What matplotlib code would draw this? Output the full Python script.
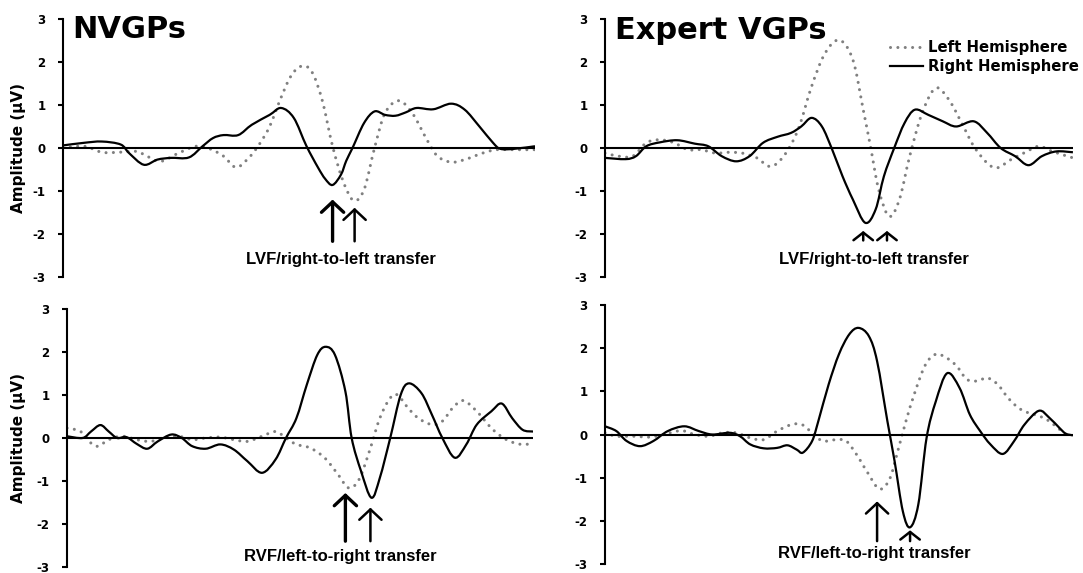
import matplotlib
matplotlib.use("Agg")
import matplotlib.pyplot as plt
from matplotlib import font_manager
from matplotlib.lines import Line2D
from matplotlib.path import Path
from matplotlib.patches import PathPatch

# ERP difference waves (x = time in arbitrary sample units)
# NVGPs, LVF / right-to-left transfer
tl_rh_x = [0, 20, 37, 55, 63, 77, 90, 103, 120, 133, 143, 153, 167, 180, 197, 208, 220, 232, 243, 250, 257,
           265, 270, 276, 287, 297, 307, 317, 327, 337, 353, 370, 383, 397, 410, 417, 430, 450]
tl_rh_y = [0.06, 0.12, 0.15, 0.08, -0.12, -0.39, -0.27, -0.23, -0.22, 0.04, 0.23, 0.30, 0.30, 0.54, 0.77, 0.93,
           0.70, 0.05, -0.45, -0.72, -0.86, -0.62, -0.30, 0.0, 0.58, 0.85, 0.77, 0.75, 0.83, 0.93, 0.90, 1.03,
           0.89, 0.50, 0.12, -0.02, -0.02, 0.04]
tl_lh_x = [0, 20, 37, 53, 70, 80, 93, 110, 127, 140, 153, 165, 177, 187, 197, 207, 217, 227, 237, 247, 257,
           267, 277, 287, 297, 307, 320, 333, 347, 357, 370, 383, 400, 413, 430, 450]
tl_lh_y = [0.0, 0.04, -0.10, -0.10, -0.08, -0.19, -0.31, -0.12, 0.04, -0.02, -0.19, -0.45, -0.23, 0.08, 0.50,
           1.12, 1.66, 1.90, 1.78, 1.12, 0.04, -0.77, -1.22, -0.97, 0.0, 0.81, 1.10, 0.81, 0.19, -0.19, -0.33,
           -0.27, -0.12, -0.04, -0.04, -0.04]

# Expert VGPs, LVF / right-to-left transfer
tr_rh_x = [0, 20, 30, 40, 53, 70, 87, 100, 113, 127, 140, 153, 167, 180, 190, 200, 210, 220, 230, 240, 252,
           262, 270, 280, 290, 300, 313, 327, 340, 357, 370, 383, 397, 410, 423, 437, 453]
tr_rh_y = [-0.23, -0.26, -0.19, 0.04, 0.13, 0.18, 0.10, 0.04, -0.19, -0.31, -0.19, 0.12, 0.26, 0.35, 0.50,
           0.70, 0.50, -0.04, -0.66, -1.20, -1.74, -1.43, -0.66, 0.0, 0.58, 0.89, 0.77, 0.62, 0.50, 0.62, 0.35,
           0.0, -0.19, -0.40, -0.19, -0.08, -0.10]
tr_lh_x = [0, 13, 27, 40, 53, 67, 80, 93, 107, 120, 133, 147, 160, 173, 187, 200, 213, 227, 240, 250, 257,
           265, 275, 285, 295, 307, 320, 333, 347, 357, 370, 380, 393, 407, 420, 433, 453]
tr_lh_y = [-0.12, -0.19, -0.19, 0.12, 0.19, 0.12, -0.04, -0.04, -0.12, -0.10, -0.12, -0.23, -0.43, -0.19,
           0.43, 1.43, 2.20, 2.51, 2.05, 0.89, 0.04, -0.97, -1.59, -1.20, -0.19, 0.81, 1.39, 1.12, 0.50, 0.04,
           -0.35, -0.46, -0.27, -0.10, 0.04, -0.08, -0.23]

# NVGPs, RVF / left-to-right transfer
bl_rh_x = [0, 15, 23, 32, 40, 48, 57, 67, 77, 87, 100, 110, 120, 133, 147, 160, 173, 187, 200, 210, 220, 230,
           240, 248, 257, 267, 273, 282, 292, 300, 310, 320, 328, 340, 350, 360, 372, 383, 393, 407, 417, 427,
           437, 447]
bl_rh_y = [0.04, 0.0, 0.15, 0.30, 0.15, 0.0, 0.02, -0.14, -0.25, -0.08, 0.08, 0.0, -0.19, -0.25, -0.15, -0.27,
           -0.54, -0.81, -0.50, 0.0, 0.46, 1.24, 1.93, 2.12, 1.93, 1.08, 0.0, -0.77, -1.39, -0.93, 0.0, 1.0,
           1.27, 1.04, 0.54, 0.0, -0.46, -0.15, 0.31, 0.62, 0.80, 0.46, 0.19, 0.15]
bl_lh_x = [0, 13, 23, 30, 40, 53, 67, 80, 93, 107, 120, 133, 147, 160, 173, 187, 200, 210, 220, 233, 247, 260,
           270, 280, 290, 300, 310, 317, 327, 337, 350, 360, 370, 380, 393, 407, 420, 433, 447]
bl_lh_y = [0.23, 0.15, -0.12, -0.19, -0.04, 0.04, -0.04, -0.08, 0.0, 0.04, -0.04, 0.0, 0.02, -0.04, -0.08,
           0.04, 0.15, 0.0, -0.15, -0.23, -0.46, -0.85, -1.16, -0.97, -0.31, 0.46, 0.93, 1.0, 0.70, 0.46, 0.31,
           0.39, 0.70, 0.87, 0.62, 0.23, -0.02, -0.14, -0.14]

# Expert VGPs, RVF / left-to-right transfer
br_rh_x = [0, 11, 21, 34, 47, 61, 77, 91, 104, 121, 131, 141, 154, 167, 177, 186, 192, 201, 207, 217, 227, 237,
           246, 256, 264, 274, 281, 289, 296, 304, 312, 321, 332, 344, 354, 364, 374, 386, 397, 407, 421, 431,
           441, 447, 454]
br_rh_y = [0.19, 0.08, -0.15, -0.27, -0.15, 0.08, 0.19, 0.08, 0.0, 0.04, -0.04, -0.23, -0.32, -0.31, -0.25,
           -0.35, -0.42, -0.15, 0.31, 1.16, 1.86, 2.32, 2.47, 2.28, 1.70, 0.31, -0.62, -1.78, -2.15, -1.62,
           -0.08, 0.77, 1.42, 1.08, 0.46, 0.08, -0.23, -0.45, -0.15, 0.23, 0.55, 0.39, 0.15, 0.02, -0.02]
br_lh_x = [0, 11, 27, 44, 57, 74, 87, 101, 114, 127, 141, 154, 167, 181, 191, 201, 211, 224, 234, 244, 254,
           266, 276, 284, 292, 301, 311, 321, 331, 341, 351, 361, 371, 381, 391, 401, 411, 421, 431, 441, 447]
br_lh_y = [0.04, -0.04, -0.04, -0.06, 0.0, 0.09, 0.0, -0.04, 0.04, 0.04, -0.08, -0.12, 0.08, 0.23, 0.23, 0.04,
           -0.15, -0.12, -0.15, -0.46, -0.85, -1.26, -1.04, -0.39, 0.31, 1.0, 1.62, 1.86, 1.78, 1.59, 1.28,
           1.24, 1.31, 1.16, 0.85, 0.62, 0.50, 0.43, 0.31, 0.12, 0.04]

y_ticks = [-3, -2, -1, 0, 1, 2, 3]
group_titles = ["NVGPs", "Expert VGPs"]
transfer_labels = ["LVF/right-to-left transfer", "RVF/left-to-right transfer"]
legend_labels = ["Left Hemisphere", "Right Hemisphere"]

# arrow x positions (latency of the peaks) for each panel
tl_arrows = [257, 278]
tr_arrows = [250, 273]
bl_arrows = [267, 291]
br_arrows = [264, 296]

plt.rcParams["axes.unicode_minus"] = False
plt.rcParams["font.family"] = "DejaVu Sans"

installed = {f.name for f in font_manager.fontManager.ttflist}
if "Liberation Sans Narrow" in installed:
    note_font = dict(family="Liberation Sans Narrow", size=14, weight="bold")
else:
    note_font = dict(family="Liberation Sans", size=12, weight="bold")

DOT = dict(color="#808080", lw=2.2, linestyle=(0, (0.01, 2.4)), capstyle="round")
SOLID = dict(color="black", lw=1.6, joinstyle="round")


def smooth_line(ax, xs, ys, zorder, **style):
    """Excel-like smoothed line: cubic Bezier segments through the read points."""
    pts = list(zip(xs, ys))
    verts = [pts[0]]
    codes = [Path.MOVETO]
    for i in range(len(pts) - 1):
        p0 = pts[i - 1] if i > 0 else pts[i]
        p1 = pts[i]
        p2 = pts[i + 1]
        p3 = pts[i + 2] if i + 2 < len(pts) else p2
        c1 = (p1[0] + (p2[0] - p0[0]) / 6, p1[1] + (p2[1] - p0[1]) / 6)
        c2 = (p2[0] - (p3[0] - p1[0]) / 6, p2[1] - (p3[1] - p1[1]) / 6)
        verts += [c1, c2, p2]
        codes += [Path.CURVE4] * 3
    color = style.pop("color")
    patch = PathPatch(Path(verts, codes), fill=False, edgecolor=color, zorder=zorder, **style)
    ax.add_patch(patch)
    return patch


def setup_axes(ax, xmax, ylabel):
    ax.set_xlim(0, xmax)
    ax.set_ylim(-3, 3)
    for side in ["top", "right", "bottom"]:
        ax.spines[side].set_visible(False)
    ax.spines["left"].set_linewidth(1.5)
    ax.set_xticks([])
    ax.set_yticks(y_ticks)
    ax.tick_params(axis="y", direction="out", length=3.5, width=1.5, pad=9, labelsize=8.5)
    for lab in ax.get_yticklabels():
        lab.set_fontweight("bold")
    ax.axhline(0, color="black", lw=1.5, zorder=2)
    if ylabel:
        ax.set_ylabel("Amplitude (µV)", fontsize=11, fontweight="bold")


def draw_arrow(ax, x, tip, tail, lw, hl=0.75, hw=0.8):
    ax.annotate("", xy=(x, tip), xytext=(x, tail),
                arrowprops=dict(arrowstyle=f"->,head_length={hl},head_width={hw}",
                                lw=lw, color="black", shrinkA=0, shrinkB=0))


fig = plt.figure(figsize=(10.83, 5.73), dpi=100)

ax_tl = fig.add_axes([0.0582, 0.5166, 0.4358, 0.4503])
ax_tr = fig.add_axes([0.5586, 0.5166, 0.4321, 0.4503])
ax_bl = fig.add_axes([0.0619, 0.0105, 0.4303, 0.4503])
ax_br = fig.add_axes([0.5586, 0.0157, 0.4321, 0.4520])

setup_axes(ax_tl, 450, True)
setup_axes(ax_tr, 453, False)
setup_axes(ax_bl, 447, True)
setup_axes(ax_br, 454, False)
ax_tl.yaxis.set_label_coords(-0.078, 0.5)
ax_bl.yaxis.set_label_coords(-0.088, 0.5)

smooth_line(ax_tl, tl_lh_x, tl_lh_y, 1, **DOT)
smooth_line(ax_tl, tl_rh_x, tl_rh_y, 3, **SOLID)
smooth_line(ax_tr, tr_lh_x, tr_lh_y, 1, **DOT)
smooth_line(ax_tr, tr_rh_x, tr_rh_y, 3, **SOLID)
smooth_line(ax_bl, bl_lh_x, bl_lh_y, 1, **DOT)
smooth_line(ax_bl, bl_rh_x, bl_rh_y, 3, **SOLID)
smooth_line(ax_br, br_lh_x, br_lh_y, 1, **DOT)
smooth_line(ax_br, br_rh_x, br_rh_y, 3, **SOLID)

# group titles
ax_tl.text(0.019, 1.015, group_titles[0], transform=ax_tl.transAxes, ha="left", va="top",
           fontsize=22, fontweight="bold")
ax_tr.text(0.021, 1.012, group_titles[1], transform=ax_tr.transAxes, ha="left", va="top",
           fontsize=22, fontweight="bold")

# transfer direction labels
ax_tl.text(265, -2.59, transfer_labels[0], ha="center", va="center", **note_font)
ax_tr.text(260, -2.59, transfer_labels[0], ha="center", va="center", **note_font)
ax_bl.text(262, -2.75, transfer_labels[1], ha="center", va="center", **note_font)
ax_br.text(261, -2.75, transfer_labels[1], ha="center", va="center", **note_font)

# arrows under the peaks
draw_arrow(ax_tl, tl_arrows[0], -1.2, -2.17, 2.4)
draw_arrow(ax_tl, tl_arrows[1], -1.39, -2.17, 1.8)
draw_arrow(ax_tr, tr_arrows[0], -1.93, -2.15, 1.8, hl=0.55, hw=0.7)
draw_arrow(ax_tr, tr_arrows[1], -1.93, -2.15, 1.8, hl=0.55, hw=0.7)
draw_arrow(ax_bl, bl_arrows[0], -1.28, -2.4, 2.4)
draw_arrow(ax_bl, bl_arrows[1], -1.62, -2.4, 1.8)
draw_arrow(ax_br, br_arrows[0], -1.55, -2.47, 1.8)
draw_arrow(ax_br, br_arrows[1], -2.22, -2.47, 1.8, hl=0.55, hw=0.7)

lh_handle = Line2D([], [], color=DOT["color"], lw=DOT["lw"], linestyle=DOT["linestyle"],
                   dash_capstyle="round")
rh_handle = Line2D([], [], color=SOLID["color"], lw=SOLID["lw"])
ax_tr.legend([lh_handle, rh_handle], legend_labels, loc="upper left", bbox_to_anchor=(0.609, 0.918),
             frameon=False, borderpad=0, borderaxespad=0, handlelength=2.2, handletextpad=0.35,
             labelspacing=0.25, prop=dict(weight="bold", size=10.7))

fig.savefig("out.png", dpi=100)
